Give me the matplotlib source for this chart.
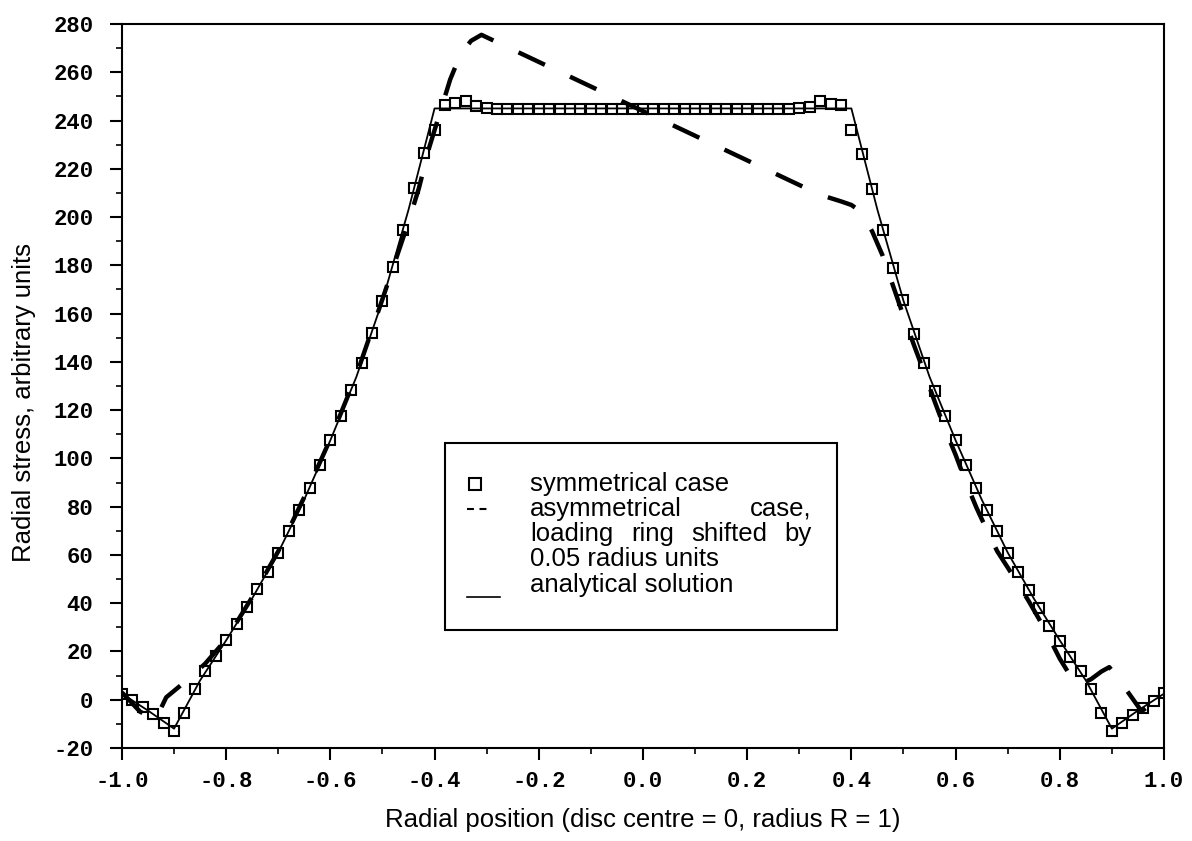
import matplotlib
matplotlib.use('Agg')
import matplotlib.pyplot as plt
from matplotlib.ticker import MultipleLocator, FormatStrFormatter
from matplotlib.patches import Rectangle
from matplotlib.lines import Line2D

plt.rcParams['axes.unicode_minus'] = False
plt.rcParams['lines.scale_dashes'] = False

# symmetrical case (FE nodes every 0.02 radius units)
sym_x = [-1.00, -0.98, -0.96, -0.94, -0.92, -0.90, -0.88, -0.86, -0.84, -0.82,
         -0.80, -0.78, -0.76, -0.74, -0.72, -0.70, -0.68, -0.66, -0.64, -0.62,
         -0.60, -0.58, -0.56, -0.54, -0.52, -0.50, -0.48, -0.46, -0.44, -0.42,
         -0.40, -0.38, -0.36, -0.34, -0.32, -0.30, -0.28, -0.26, -0.24, -0.22,
         -0.20, -0.18, -0.16, -0.14, -0.12, -0.10, -0.08, -0.06, -0.04, -0.02,
         0.00, 0.02, 0.04, 0.06, 0.08, 0.10, 0.12, 0.14, 0.16, 0.18,
         0.20, 0.22, 0.24, 0.26, 0.28, 0.30, 0.32, 0.34, 0.36, 0.38,
         0.40, 0.42, 0.44, 0.46, 0.48, 0.50, 0.52, 0.54, 0.56, 0.58,
         0.60, 0.62, 0.64, 0.66, 0.68, 0.70, 0.72, 0.74, 0.76, 0.78,
         0.80, 0.82, 0.84, 0.86, 0.88, 0.90, 0.92, 0.94, 0.96, 0.98, 1.00]
sym_y = [2.5, 0.0, -3.0, -6.0, -9.7, -12.8, -5.3, 4.5, 12.0, 18.0,
         24.6, 31.5, 38.3, 45.7, 53.0, 61.0, 69.8, 78.7, 87.8, 97.4,
         107.5, 117.4, 128.3, 139.5, 151.8, 165.3, 179.3, 194.8, 211.9, 226.4,
         236.1, 246.6, 247.2, 248.1, 246.2, 245.2, 244.8, 244.8, 244.8, 244.8,
         244.8, 244.8, 244.8, 244.8, 244.8, 244.8, 244.8, 244.8, 244.8, 244.8,
         244.8, 244.8, 244.8, 244.8, 244.8, 244.8, 244.8, 244.8, 244.8, 244.8,
         244.8, 244.8, 244.8, 244.8, 244.8, 245.2, 245.5, 247.9, 247.0, 246.6,
         235.9, 226.3, 211.6, 194.8, 178.9, 165.5, 151.5, 139.5, 128.0, 117.5,
         107.7, 97.4, 87.7, 78.7, 69.8, 60.8, 52.8, 45.3, 38.0, 30.4,
         24.2, 17.9, 11.7, 4.4, -5.5, -13.1, -9.7, -6.2, -3.4, -0.7, 2.8]

# asymmetrical case, loading ring shifted by 0.05
asym_x = [-1.0, -0.965, -0.935, -0.915, -0.87, -0.84, -0.80, -0.75, -0.70, -0.65,
          -0.60, -0.55, -0.50, -0.45, -0.43, -0.41, -0.39, -0.37, -0.35, -0.33,
          -0.31, 0.34, 0.38, 0.40, 0.42, 0.44, 0.46, 0.48, 0.50, 0.52,
          0.54, 0.56, 0.58, 0.60, 0.62, 0.64, 0.66, 0.68, 0.70, 0.72,
          0.74, 0.76, 0.78, 0.80, 0.82, 0.835, 0.86, 0.88, 0.895, 0.915,
          0.93, 0.957, 0.98, 1.0]
asym_y = [3.0, -5.0, -8.0, 1.0, 9.0, 15.0, 25.0, 42.5, 61.5, 84.0,
          108.0, 134.5, 166.0, 198.0, 212.0, 229.0, 243.0, 257.0, 267.5, 273.0,
          275.5, 209.2, 206.5, 205.0, 202.0, 194.0, 184.0, 171.5, 159.0, 147.0,
          135.5, 123.5, 112.0, 101.5, 90.0, 79.6, 70.3, 61.5, 54.8, 48.0,
          41.0, 33.5, 25.5, 17.0, 10.0, 6.0, 8.5, 11.7, 13.5, 8.0,
          3.4, -4.8, -1.0, 3.0]

# analytical solution
ana_x = [-1.0, -0.95, -0.9, -0.85, -0.8, -0.75, -0.7, -0.65, -0.6, -0.55, -0.5, -0.45, -0.4,
         0.4, 0.45, 0.5, 0.55, 0.6, 0.65, 0.7, 0.75, 0.8, 0.85, 0.9, 0.95, 1.0]
ana_y = [2.5, -4.5, -12.0, 8.0, 24.6, 42.0, 61.0, 83.0, 107.5, 133.8, 165.3, 203.0, 245.0,
         245.0, 203.0, 165.3, 133.8, 107.5, 83.0, 61.0, 42.0, 24.6, 8.0, -12.0, -4.5, 2.5]

# legend lines, as words (some lines are justified in the original)
legend_lines = [['symmetrical case'],
                ['asymmetrical', 'case,'],
                ['loading', 'ring', 'shifted', 'by'],
                ['0.05 radius units'],
                ['analytical solution']]
justified = [False, True, True, False, False]

fig = plt.figure(figsize=(11.92, 8.41), dpi=100)
ax = fig.add_axes([0.1023, 0.1106, 0.8742, 0.8609])

ax.plot(ana_x, ana_y, color='black', lw=1.3)
ax.plot(asym_x, asym_y, color='black', lw=3.2, dashes=(21, 20), dash_capstyle='butt')
ax.plot(sym_x, sym_y, ls='none', marker='s', ms=7.5, mfc='none', mec='black', mew=1.5)

ax.set_xlim(-1.0, 1.0)
ax.set_ylim(-20, 280)
ax.xaxis.set_major_locator(MultipleLocator(0.2))
ax.xaxis.set_minor_locator(MultipleLocator(0.1))
ax.yaxis.set_major_locator(MultipleLocator(20))
ax.yaxis.set_minor_locator(MultipleLocator(10))
ax.xaxis.set_major_formatter(FormatStrFormatter('%.1f'))
ax.yaxis.set_major_formatter(FormatStrFormatter('%d'))

for sp in ax.spines.values():
    sp.set_linewidth(1.5)
ax.tick_params(which='major', direction='out', length=8.5, width=1.5)
ax.tick_params(which='minor', direction='out', length=4, width=1.2)
ax.tick_params(axis='y', which='major', pad=12)
ax.tick_params(axis='x', which='major', pad=8)
for lab in ax.get_xticklabels() + ax.get_yticklabels():
    lab.set_fontfamily('Liberation Mono')
    lab.set_fontweight('bold')
    lab.set_fontsize(16)

ax.set_xlabel('Radial position (disc centre = 0, radius R = 1)',
              family='Liberation Sans', fontsize=18.5, va='center')
ax.xaxis.set_label_coords(0.5, -0.0994)
ax.set_ylabel('Radial stress, arbitrary units',
              family='Liberation Sans', fontsize=18.5, va='center')
ax.yaxis.set_label_coords(-0.094, 0.4765)

# hand-made legend box
ax.add_patch(Rectangle((0.31, 0.163), 0.376, 0.258, transform=ax.transAxes,
                       facecolor='white', edgecolor='black', lw=1.5, zorder=5))
text_left, text_right = 0.3916, 0.6622
line_y = [0.3646, 0.3301, 0.2956, 0.261, 0.2251]
fig.canvas.draw()
renderer = fig.canvas.get_renderer()
to_axes = ax.transAxes.inverted()
for words, yy, just in zip(legend_lines, line_y, justified):
    items = [ax.text(text_left, yy, w, transform=ax.transAxes, family='Liberation Sans',
                     fontsize=18.5, va='center', ha='left', zorder=6) for w in words]
    if just and len(items) > 1:
        widths = []
        for t in items:
            bb = t.get_window_extent(renderer)
            widths.append(to_axes.transform((bb.x1, 0))[0] - to_axes.transform((bb.x0, 0))[0])
        gap = (text_right - text_left - sum(widths)) / (len(items) - 1)
        xpos = text_left
        for t, w in zip(items, widths):
            t.set_x(xpos)
            xpos += w + gap

ax.add_line(Line2D([0.339], [line_y[0]], transform=ax.transAxes, ls='none', marker='s',
                   ms=8, mfc='none', mec='black', mew=1.5, zorder=6))
ax.add_line(Line2D([0.331, 0.353], [line_y[1], line_y[1]], transform=ax.transAxes,
                   color='black', lw=1.5, dashes=(5, 4), zorder=6))
ax.add_line(Line2D([0.331, 0.363], [0.2086, 0.2086], transform=ax.transAxes,
                   color='black', lw=1.2, zorder=6))

fig.savefig('out.png', dpi=100)
